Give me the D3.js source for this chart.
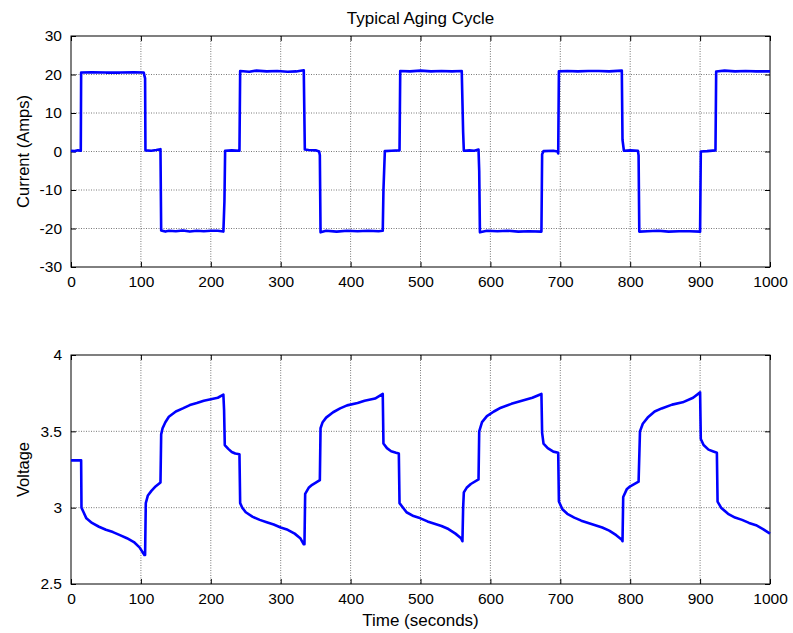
<!DOCTYPE html>
<html>
<head>
<meta charset="utf-8">
<script src="https://cdn.jsdelivr.net/npm/d3@7"></script>
<style>
  body { margin: 0; background: #fff; }
  text { font-family: "Liberation Sans", Arial, sans-serif; fill: #000; }
  .axis path, .axis line { stroke: #000; }
</style>
</head>
<body>
<div id="chart"></div>
<script>
// tick values
var timeTicks = [0, 100, 200, 300, 400, 500, 600, 700, 800, 900, 1000];
var currentTicks = [-30, -20, -10, 0, 10, 20, 30];
var voltageTicks = [2.5, 3, 3.5, 4];

// current trace
var currentTime = [0, 5, 10, 14, 14.5, 30, 50, 70, 90, 104, 106, 106.5, 115, 122, 128, 129, 135, 140, 150, 160, 170, 180, 190, 200, 210, 218, 219.5, 220.5, 230, 241,
  242, 255, 265, 280, 295, 310, 322, 333, 334.5, 340, 350, 355, 356, 357, 365, 380, 395, 410, 425, 440, 446, 447, 449, 458, 470,
  471, 485, 500, 515, 530, 545, 559, 561, 562, 570, 577, 583, 584, 585, 595, 610, 625, 640, 655, 673, 674, 676, 690, 696, 697,
  698, 710, 725, 740, 755, 770, 788, 789, 791, 800, 811, 812, 813, 825, 840, 855, 870, 885, 900, 901, 910, 922,
  923, 935, 950, 965, 980, 1000];
var currentAmps = [0.2, 0.1, 0.3, 0.2, 20.5, 20.6, 20.5, 20.5, 20.6, 20.5, 19, 0.3, 0.2, 0.4, 0.6, -20.5, -20.8, -20.6, -20.7, -20.5, -20.8, -20.6, -20.7, -20.6, -20.6, -20.8, -13, 0.2, 0.3, 0.2,
  20.9, 20.7, 21.0, 20.8, 20.9, 20.7, 20.8, 21.1, 0.5, 0.4, 0.3, 0.0, -1, -21.0, -20.6, -20.8, -20.6, -20.7, -20.6, -20.7, -20.6, -10, 0.1, 0.2, 0.3,
  20.9, 20.8, 21.0, 20.8, 20.9, 20.8, 20.9, 5, 0.2, 0.3, 0.2, 0.5, -5, -21.0, -20.6, -20.7, -20.6, -20.8, -20.7, -20.8, -0.7, 0.1, 0.2, 0, -0.5,
  20.8, 20.9, 20.8, 20.9, 20.9, 20.8, 21.0, 3, 0.2, 0.3, 0.2, -1, -20.8, -20.7, -20.6, -20.8, -20.7, -20.7, -20.8, 0, 0.1, 0.3,
  20.8, 21.0, 20.8, 20.9, 20.8, 20.8];

// voltage trace
var voltageTime = [0, 14.5, 15, 18, 22, 30, 40, 50, 60, 70, 80, 90, 98, 105, 106, 107, 110, 115, 120, 128, 129, 131, 135, 140, 150, 160, 170, 180, 190, 200, 210, 218,
  219, 220, 225, 230, 235, 241, 242, 245, 250, 260, 270, 280, 290, 300, 310, 320, 328, 333, 334, 335, 340, 345, 356, 357, 360, 365, 375, 385, 395, 410, 420, 435, 446,
  447, 452, 458, 465, 469, 470, 475, 480, 490, 500, 510, 520, 530, 540, 550, 558, 560, 561, 562, 566, 572, 583, 584, 588, 595, 605, 615, 630, 645, 660, 673,
  674, 676, 682, 690, 697, 698, 703, 710, 720, 730, 740, 750, 760, 770, 780, 788, 789, 790, 795, 800, 812, 814, 818, 825, 835, 845, 860, 875, 890, 900,
  901, 905, 912, 918, 924, 925, 930, 940, 950, 960, 970, 980, 990, 1000];
var voltageVolts = [3.31, 3.31, 3.0, 2.97, 2.93, 2.9, 2.875, 2.855, 2.84, 2.82, 2.8, 2.775, 2.74, 2.69, 2.69, 3.03, 3.08, 3.11, 3.135, 3.165, 3.48, 3.52, 3.56, 3.595, 3.63, 3.65, 3.672, 3.685, 3.7, 3.71, 3.72, 3.74,
  3.64, 3.41, 3.385, 3.365, 3.355, 3.35, 3.03, 3.0, 2.97, 2.94, 2.92, 2.905, 2.89, 2.87, 2.855, 2.83, 2.8, 2.76, 2.76, 3.09, 3.13, 3.15, 3.18, 3.52, 3.56, 3.59, 3.625, 3.65, 3.67, 3.685, 3.7, 3.715, 3.745,
  3.42, 3.39, 3.37, 3.36, 3.355, 3.03, 3.0, 2.97, 2.945, 2.93, 2.91, 2.895, 2.88, 2.86, 2.83, 2.8, 2.78, 3.0, 3.1, 3.13, 3.155, 3.185, 3.5, 3.56, 3.6, 3.63, 3.655, 3.68, 3.7, 3.72, 3.745,
  3.49, 3.42, 3.39, 3.367, 3.36, 3.04, 2.99, 2.96, 2.935, 2.915, 2.9, 2.885, 2.87, 2.85, 2.82, 2.79, 2.78, 3.07, 3.12, 3.14, 3.17, 3.5, 3.55, 3.59, 3.63, 3.65, 3.675, 3.69, 3.72, 3.755,
  3.45, 3.41, 3.38, 3.37, 3.36, 3.04, 3.0, 2.96, 2.935, 2.92, 2.9, 2.885, 2.86, 2.83];

var svg_width = 793;
var svg_height = 633;
var left = 71, right = 770;

var svg = d3.select("#chart").append("svg")
  .attr("width", svg_width)
  .attr("height", svg_height);

svg.append("rect").attr("width", svg_width).attr("height", svg_height).attr("fill", "#fff");

var x = d3.scaleLinear().domain([0, 1000]).range([left, right]);

// plain labels, hyphen minus like the original
function plain(d) { return String(d); }

function drawPanel(top, bottom, yDomain, yTicks, times, values, yLabel) {
  var y = d3.scaleLinear().domain(yDomain).range([bottom, top]);
  var g = svg.append("g");

  // dotted grid
  g.selectAll(".gx").data(timeTicks.slice(1, -1)).enter().append("line")
    .attr("x1", function(d) { return x(d); }).attr("x2", function(d) { return x(d); })
    .attr("y1", top).attr("y2", bottom)
    .attr("stroke", "#555").attr("stroke-width", 0.8).attr("stroke-dasharray", "1,1.5");
  g.selectAll(".gy").data(yTicks.slice(1, -1)).enter().append("line")
    .attr("x1", left).attr("x2", right)
    .attr("y1", function(d) { return y(d); }).attr("y2", function(d) { return y(d); })
    .attr("stroke", "#555").attr("stroke-width", 0.8).attr("stroke-dasharray", "1,1.5");

  // ticks inward on all sides
  g.append("g").attr("class", "axis")
    .attr("transform", "translate(0," + bottom + ")")
    .call(d3.axisBottom(x).tickValues(timeTicks).tickSize(-5).tickPadding(9).tickFormat(plain))
    .call(function(a) { a.select(".domain").remove(); })
    .selectAll("text").style("font-size", "15.5px");
  g.append("g").attr("class", "axis")
    .attr("transform", "translate(0," + top + ")")
    .call(d3.axisTop(x).tickValues(timeTicks).tickSize(-5).tickFormat(""))
    .call(function(a) { a.select(".domain").remove(); });
  g.append("g").attr("class", "axis")
    .attr("transform", "translate(" + left + ",0)")
    .call(d3.axisLeft(y).tickValues(yTicks).tickSize(-5).tickPadding(9).tickFormat(plain))
    .call(function(a) { a.select(".domain").remove(); })
    .selectAll("text").style("font-size", "15.5px");
  g.append("g").attr("class", "axis")
    .attr("transform", "translate(" + right + ",0)")
    .call(d3.axisRight(y).tickValues(yTicks).tickSize(-5).tickFormat(""))
    .call(function(a) { a.select(".domain").remove(); });

  g.selectAll(".axis text").attr("fill", "#000");

  // box
  g.append("rect")
    .attr("x", left).attr("y", top)
    .attr("width", right - left).attr("height", bottom - top)
    .attr("fill", "none").attr("stroke", "#000").attr("stroke-width", 1);

  var pts = times.map(function(t, i) { return [t, values[i]]; });
  var line = d3.line()
    .x(function(d) { return x(d[0]); })
    .y(function(d) { return y(d[1]); });
  g.append("path")
    .datum(pts)
    .attr("d", line)
    .attr("fill", "none")
    .attr("stroke", "#0000ff")
    .attr("stroke-width", 2.6)
    .attr("stroke-linejoin", "round");

  g.append("text")
    .attr("transform", "translate(23," + (top + bottom) / 2 + ") rotate(-90)")
    .attr("text-anchor", "middle")
    .attr("dy", "0.35em")
    .style("font-size", "16.5px")
    .text(yLabel);
}

drawPanel(36, 267, [-30, 30], currentTicks, currentTime, currentAmps, "Current (Amps)");
drawPanel(355, 584, [2.5, 4], voltageTicks, voltageTime, voltageVolts, "Voltage");

svg.append("text")
  .attr("x", (left + right) / 2).attr("y", 18)
  .attr("text-anchor", "middle").attr("dy", "0.35em")
  .style("font-size", "17px")
  .text("Typical Aging Cycle");

svg.append("text")
  .attr("x", (left + right) / 2).attr("y", 620)
  .attr("text-anchor", "middle").attr("dy", "0.35em")
  .style("font-size", "17px")
  .text("Time (seconds)");
</script>
</body>
</html>
